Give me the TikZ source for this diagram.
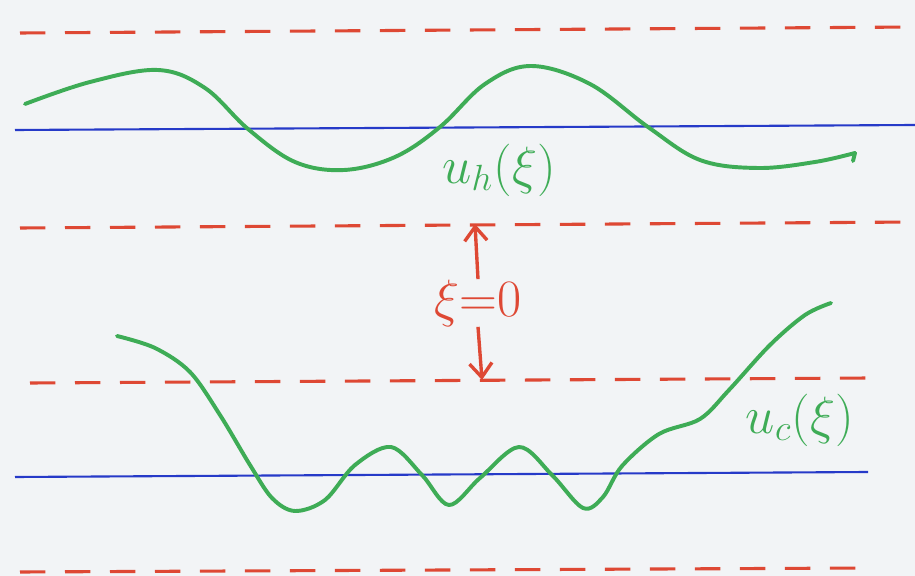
\documentclass[tikz,border=0pt]{standalone}
\usetikzlibrary{arrows.meta}
\definecolor{penred}{RGB}{222,72,52}
\definecolor{pengreen}{RGB}{62,172,86}
\definecolor{penblue}{RGB}{38,58,200}
\definecolor{paper}{RGB}{242,244,246}
\tikzset{
 level/.style={penred,line width=2.2pt,dash pattern=on 18pt off 14pt},
 base/.style={penblue,line width=1.5pt},
 wave/.style={pengreen,line width=2.8pt,line cap=round,line join=round},
 lab/.style={inner sep=0pt,font=\huge,scale=1.8,transform shape}
}
\begin{document}
\begin{tikzpicture}[x=.025cm,y=-.025cm]
 \fill[paper] (0,0) rectangle (915,576);
 \useasboundingbox (0,0) rectangle (915,576);
 % dashed levels and base lines
 \draw[level] (20,33)--(915,27);
 \draw[level] (20,228)--(915,222);
 \draw[level] (30,383)--(870,378);
 \draw[level] (20,572)--(870,568);
 \draw[base] (15,130)--(915,125);
 \draw[base] (15,477)--(868,472);
 % upper wave
 \draw[wave] plot[smooth,tension=.6] coordinates {(25,104) (90,82) (158,70) (205,88) (248,129)
  (295,162) (344,170) (395,157) (440,127) (485,84) (531,66) (590,84) (648,127)
  (700,160) (758,168) (815,162) (855,153)};
 \draw[wave] (855,153)--(853,161);
 % lower wave
 \draw[wave] plot[smooth,tension=.55] coordinates {(117,336) (155,348) (190,372) (220,415) (250,465)
  (272,498) (295,511) (325,500) (355,465) (391,447) (422,475) (449,505) (480,478) (519,447)
  (552,475) (583,508) (603,497) (622,466) (659,434) (700,419) (729,390) (770,345)
  (805,315) (831,303)};
 % labels
 \node[lab,pengreen] (uh) at (499,170) {$u_h(\xi)$};
 \node[lab,pengreen] (uc) at (800,420) {$u_c(\xi)$};
 \node[lab,penred] (xi0) at (478,303) {$\xi{=}0$};
 \coordinate (xitop) at (475,224);
 \coordinate (xibot) at (482,380);
 \draw[penred,line width=2.4pt,-{Straight Barb[length=10pt,width=16pt]}] (xi0.north) -- (xitop);
 \draw[penred,line width=2.4pt,-{Straight Barb[length=10pt,width=16pt]}] (xi0.south) -- (xibot);
\end{tikzpicture}
\end{document}
